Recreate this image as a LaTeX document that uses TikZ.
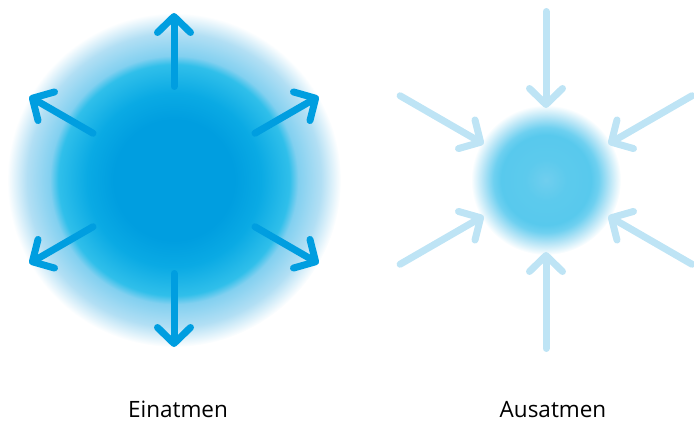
\documentclass[tikz,border=0pt]{standalone}
\usepackage{fontspec}
\setmainfont{Open Sans}
\usetikzlibrary{arrows.meta, calc}

\definecolor{atemblau}{RGB}{0,158,224}
\definecolor{atemhell}{RGB}{190,228,245}

% Farbverlauf grosser Kreis (Einatmen)
\pgfdeclareradialshading{einshade}{\pgfpoint{0bp}{0bp}}{%
  color(0bp)=(atemblau);
  color(9bp)=(atemblau);
  color(13bp)=(rgb,255:red,10;green,170;blue,228);
  color(17.3bp)=(rgb,255:red,48;green,191;blue,234);
  color(18.6bp)=(rgb,255:red,130;green,208;blue,240);
  color(22bp)=(rgb,255:red,178;green,223;blue,244);
  color(25bp)=(white);
  color(50bp)=(white)}
% Farbverlauf kleiner Kreis (Ausatmen)
\pgfdeclareradialshading{ausshade}{\pgfpoint{0bp}{0bp}}{%
  color(0bp)=(rgb,255:red,112;green,206;blue,238);
  color(7bp)=(rgb,255:red,92;green,202;blue,237);
  color(15bp)=(rgb,255:red,88;green,201;blue,237);
  color(17.5bp)=(rgb,255:red,110;green,208;blue,240);
  color(21bp)=(rgb,255:red,180;green,228;blue,246);
  color(25bp)=(white);
  color(50bp)=(white)}

\tikzset{
  pfeil/.style={line width=7pt, line cap=round,
    -{Straight Barb[length=16pt, width=33pt, round]}},
  beschriftung/.style={font=\fontsize{22.5}{26}\selectfont, anchor=base}
}

\begin{document}
\begin{tikzpicture}[x=1pt, y=1pt]
  \useasboundingbox (0,0) rectangle (694,424);
  % Einatmen
  \coordinate (ein) at (174,244);
  \shade[shading=einshade] (ein) circle (167);
  \foreach \w in {30,90,150,210,270,330} {
    \coordinate (ein-a\w) at ($(ein)+(\w:93.5)$);
    \coordinate (ein-b\w) at ($(ein)+(\w:167)$);
    \draw[pfeil, atemblau] (ein-a\w) -- (ein-b\w);
  }
  \node[beschriftung] (einlabel) at (178,7) {Einatmen};
  % Ausatmen
  \coordinate (aus) at (546,244);
  \shade[shading=ausshade] (aus) circle (75);
  \foreach \w in {30,90,150,210,270,330} {
    \coordinate (aus-a\w) at ($(aus)+(\w:168.5)$);
    \coordinate (aus-b\w) at ($(aus)+(\w:72)$);
    \draw[pfeil, atemhell] (aus-a\w) -- (aus-b\w);
  }
  \node[beschriftung] (auslabel) at (553,7) {Ausatmen};
\end{tikzpicture}
\end{document}
